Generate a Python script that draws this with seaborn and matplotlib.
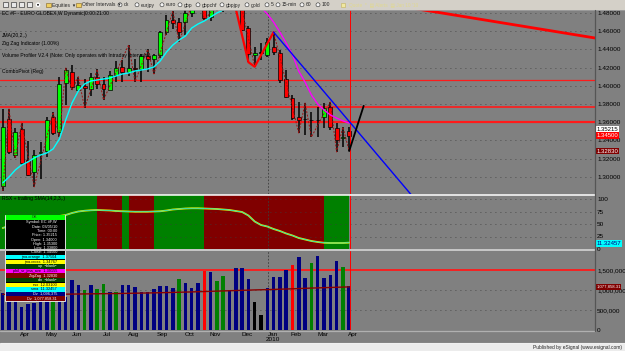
import numpy as np
import seaborn as sns
import matplotlib
matplotlib.use("Agg")
import matplotlib.pyplot as plt
from matplotlib.patches import Rectangle, Circle
from matplotlib.transforms import blended_transform_factory
from matplotlib.ticker import FuncFormatter

W, H = 625, 351
GRAY = "#808080"

# weekly EC #F (Euro FX) bars, mid Mar 2009 .. end Mar 2010
opens = [1.2900, 1.3630, 1.3240, 1.3525, 1.3185, 1.3055, 1.3262, 1.3285, 1.3655, 1.3490,
         1.4030, 1.4150, 1.3955, 1.3998, 1.3965, 1.4100, 1.4020, 1.3955, 1.4120, 1.4210,
         1.4150, 1.4200, 1.4185, 1.4325, 1.4290, 1.4339, 1.4591, 1.4723, 1.4700, 1.4700,
         1.4800, 1.4980, 1.5020, 1.4756, 1.4900, 1.4890, 1.4880, 1.4970, 1.4870, 1.4635,
         1.4340, 1.4370, 1.4340, 1.4427, 1.4360, 1.4080, 1.3866, 1.3657, 1.3630, 1.3620,
         1.3620, 1.3657, 1.3767, 1.3536, 1.3426, 1.3500]
highs = [1.3745, 1.3745, 1.3535, 1.3590, 1.3395, 1.3295, 1.3380, 1.3655, 1.3710, 1.4100,
         1.4200, 1.4230, 1.4100, 1.4080, 1.4140, 1.4180, 1.4100, 1.4160, 1.4270, 1.4280,
         1.4450, 1.4300, 1.4350, 1.4400, 1.4350, 1.4600, 1.4780, 1.4820, 1.4745, 1.4840,
         1.5050, 1.5100, 1.5060, 1.4950, 1.5050, 1.5030, 1.5140, 1.5150, 1.4900, 1.4660,
         1.4430, 1.4470, 1.4520, 1.4590, 1.4393, 1.4174, 1.3899, 1.3822, 1.3811, 1.3712,
         1.3767, 1.3811, 1.3822, 1.3591, 1.3547, 1.3547]
lows = [1.2845, 1.3250, 1.3205, 1.3130, 1.3010, 1.2890, 1.2975, 1.3220, 1.3460, 1.3435,
        1.3790, 1.3950, 1.3950, 1.3755, 1.3890, 1.3960, 1.3845, 1.3950, 1.4040, 1.4040,
        1.4110, 1.4045, 1.4045, 1.4155, 1.4130, 1.4310, 1.4560, 1.4620, 1.4480, 1.4560,
        1.4760, 1.4900, 1.4720, 1.4710, 1.4820, 1.4810, 1.4830, 1.4840, 1.4600, 1.4260,
        1.4210, 1.4285, 1.4315, 1.4340, 1.4030, 1.3866, 1.3624, 1.3481, 1.3459, 1.3437,
        1.3437, 1.3536, 1.3514, 1.3273, 1.3327, 1.3283]
closes = [1.3550, 1.3275, 1.3490, 1.3150, 1.3020, 1.3240, 1.3273, 1.3625, 1.3480, 1.4025,
          1.4170, 1.3990, 1.4010, 1.3976, 1.4100, 1.4020, 1.3960, 1.4120, 1.4200, 1.4150,
          1.4200, 1.4185, 1.4325, 1.4290, 1.4339, 1.4591, 1.4720, 1.4690, 1.4590, 1.4800,
          1.4980, 1.5020, 1.4745, 1.4900, 1.4890, 1.4880, 1.4970, 1.4870, 1.4615, 1.4350,
          1.4360, 1.4365, 1.4480, 1.4372, 1.4064, 1.3877, 1.3646, 1.3624, 1.3632, 1.3625,
          1.3625, 1.3756, 1.3547, 1.3404, 1.3437, 1.3450]
candle_cols = "grgrrgggrg" "grgrgrrggr" "grgrgggrrg" "ggrgrrgrrr" "gkgrrrrrkk" "kgrrgr"

# JMA(20) - cyan while rising, magenta after the turn
jma = [1.2932, 1.2998, 1.3075, 1.3130, 1.3163, 1.3207, 1.3240, 1.3262, 1.3306, 1.3415,
       1.3624, 1.3811, 1.3943, 1.4020, 1.4053, 1.4064, 1.4075, 1.4086, 1.4108, 1.4130,
       1.4141, 1.4163, 1.4174, 1.4185, 1.4207, 1.4273, 1.4371, 1.4448, 1.4503, 1.4547,
       1.4635, 1.4679, 1.4712, 1.4756, 1.4800, 1.4833, 1.4880, 1.4910, 1.4930, 1.4920,
       1.4890, 1.4860, 1.4790, 1.4700, 1.4590, 1.4470, 1.4340, 1.4160, 1.4040, 1.3900,
       1.3800, 1.3735, 1.3680, 1.3645, 1.3615, 1.3590]
jma_turn = 37

# zig zag pivots (bar index), alternating low / high
zz_idx = [0, 1, 2, 3, 5, 8, 9, 10, 11, 12, 13, 15, 16, 20, 21, 23, 24, 27, 28, 31, 32,
          37, 40, 43, 47, 48, 49, 52, 53, 54, 55]
zz_major_x = [36, 39, 40, 43]
zz_major_y = [1.5140, 1.4260, 1.4210, 1.4590]
proj_x = [55, 57.3]
proj_y = [1.3283, 1.3780]
blue_x = [43, 65]
blue_y = [1.4590, 1.2790]
red_x = [60, 94.5]
red_y = [1.4910, 1.4520]
pivot_levels = [1.4065, 1.3770, 1.3600]
price_ticks = [1.30, 1.32, 1.34, 1.36, 1.38, 1.40, 1.42, 1.44, 1.46, 1.48]

# RSX + trailing SMA
rsx = [42, 46, 50, 52, 50, 52, 54, 58, 62, 66,
       68, 72, 75, 76.5, 77.5, 78, 77.5, 77, 76, 75.5,
       75, 74.5, 74.5, 74.5, 75, 75.5, 77, 79, 80, 81,
       81.5, 81.5, 81, 80.5, 80, 79, 78, 76, 74, 67,
       55, 48, 45, 40, 36, 31, 27, 22, 19, 16,
       14, 12.5, 12, 12, 12, 12.7]
rsx_regime = "g" * 16 + "r" * 4 + "g" + "r" * 4 + "g" * 8 + "r" * 19 + "g" * 4

# volume
volume = [917000, 1050000, 950000, 583000, 650000, 667000, 700000, 800000, 750000, 950000,
          833000, 1250000, 1125000, 1000000, 1125000, 1025000, 1150000, 958000, 942000, 1125000,
          1125000, 1083000, 958000, 958000, 1017000, 1108000, 1108000, 1058000, 1275000, 1167000,
          1058000, 1183000, 1475000, 1442000, 1225000, 1358000, 992000, 1558000, 1558000, 1267000,
          692000, 375000, 1058000, 1317000, 1317000, 1500000, 1625000, 1833000, 1292000, 1683000,
          1858000, 1292000, 1375000, 1725000, 1583000, 1096375]
vol_cols = "bbbbbbbbgb" "bbbgbggbgb" "bbbbbbbbgb" "bbrbggbbbb" "kkbbbbrbbg" "bbbbgb"
vol_avg = [892000, 891000, 890000, 889000, 889000, 890000, 891000, 892000, 893000, 895000,
           896000, 898000, 900000, 902000, 904000, 906000, 908000, 910000, 912000, 914000,
           917000, 920000, 923000, 926000, 929000, 932000, 936000, 940000, 944000, 948000,
           952000, 957000, 962000, 967000, 972000, 977000, 982000, 987000, 992000, 997000,
           1002000, 1006000, 1010000, 1015000, 1020000, 1025000, 1030000, 1036000, 1042000, 1048000,
           1053000, 1058000, 1063000, 1068000, 1073000, 1077858]

month_labels = ["Apr", "May", "Jun", "Jul", "Aug", "Sep", "Oct", "Nov", "Dec", "Jan\n2010",
                "Feb", "Mar", "Apr"]
month_pos = [3.5, 7.7, 11.8, 16.6, 20.7, 25.4, 29.7, 33.7, 38.8, 42.9, 46.6, 50.8, 55.6]
year_break = 42.1
cursor_bar = 55.2

CANDLE = {"g": "#00FF00", "r": "#FF0000", "k": "#000000"}
VOLC = {"b": "#000080", "g": "#008000", "r": "#FF0000", "k": "#000000"}
BAND = {"g": "#008000", "r": "#800000"}
DOTS = dict(linestyle=(0, (1, 5)), color="#3c3c3c", linewidth=0.6)


def px_axes(fig, x0, y0, x1, y1):
    return fig.add_axes([x0 / W, 1 - y1 / H, (x1 - x0) / W, (y1 - y0) / H])


def base(ax, x_lim):
    ax.set_facecolor(GRAY)
    ax.set_xlim(*x_lim)
    for s in ax.spines.values():
        s.set_visible(False)
    ax.yaxis.tick_right()
    ax.tick_params(axis="y", length=0, pad=1.5, labelsize=4.6, colors="black")
    ax.tick_params(axis="x", length=0, labelbottom=False)
    ax.set_xlabel("")
    ax.set_ylabel("")
    ax.axvline(year_break, color="#3c3c3c", linestyle=(0, (2, 2)), linewidth=0.6)
    ax.axvline(cursor_bar, color="#FF0000", linewidth=0.7, zorder=6)


def value_box(ax, y, text, fc, tc, size=4.3):
    tr = blended_transform_factory(ax.transAxes, ax.transData)
    ax.text(1.002, y, text, transform=tr, fontsize=size, color=tc, va="center", ha="left",
            clip_on=False, zorder=8,
            bbox=dict(boxstyle="square,pad=0.15", facecolor=fc, edgecolor="none"))


def main():
    sns.set_style("dark")
    plt.rcParams["font.family"] = ["Liberation Sans", "DejaVu Sans"]

    fig = plt.figure(figsize=(W / 100, H / 100), dpi=100)
    fig.patch.set_facecolor(GRAY)
    idx = np.arange(len(opens))
    x_lim = (-0.43, 94.02)

    # price panel
    ax = px_axes(fig, 0, 10, 595, 194)
    base(ax, x_lim)
    ax.set_ylim(1.2811, 1.4833)
    ax.set_yticks(price_ticks)
    ax.yaxis.set_major_formatter(FuncFormatter(lambda v, p: f"{v:.5f}"))
    for t in price_ticks:
        ax.axhline(t, **DOTS)
    for lv, lw in zip(pivot_levels, [0.9, 1.2, 1.6]):
        ax.axhline(lv, color="#FF1A1A", linewidth=lw, zorder=2)

    o, h, l, c = map(np.array, (opens, highs, lows, closes))
    ax.vlines(idx, l, h, color="black", linewidth=1.1, zorder=3)
    body_lo = np.minimum(o, c)
    body_h = np.maximum(np.abs(c - o), 0.0007)
    ax.bar(idx, body_h, bottom=body_lo, width=0.62, color=[CANDLE[k] for k in candle_cols],
           edgecolor="black", linewidth=0.5, zorder=4)

    zz_y = [lows[i] if k % 2 == 0 else highs[i] for k, i in enumerate(zz_idx)]
    ax.plot(zz_idx, zz_y, color="#A01010", linewidth=0.7, linestyle=(0, (2, 1.5)), zorder=5)

    sns.lineplot(x=idx[:jma_turn + 1], y=jma[:jma_turn + 1], ax=ax, color="#00FFFF",
                 linewidth=1.0, zorder=5)
    sns.lineplot(x=idx[jma_turn:], y=jma[jma_turn:], ax=ax, color="#FF00FF",
                 linewidth=1.0, zorder=5)
    ax.plot(zz_major_x, zz_major_y, color="#FF0000", linewidth=1.6, zorder=6)
    ax.plot(blue_x, blue_y, color="#0000FF", linewidth=1.0, zorder=6)
    ax.plot(red_x, red_y, color="#FF0000", linewidth=2.0, zorder=6)
    ax.plot(proj_x, proj_y, color="#000000", linewidth=1.3, zorder=6)

    value_box(ax, 1.35215, "1.35215", "white", "black")
    value_box(ax, 1.34500, "1.34500", "#FF0000", "white")
    value_box(ax, 1.32830, "1.32830", "#800000", "white")

    # RSX panel
    ax2 = px_axes(fig, 0, 195, 595, 249)
    base(ax2, x_lim)
    ax2.set_ylim(0, 108)
    ax2.set_yticks([0, 25, 50, 75, 100])
    for i, k in enumerate(rsx_regime):
        left = x_lim[0] if i == 0 else i - 1
        ax2.axvspan(left, i, color=BAND[k], linewidth=0, zorder=1)
    for t in [25, 50, 75, 100]:
        ax2.axhline(t, **DOTS)
    sns.lineplot(x=idx, y=rsx, ax=ax2, color="#E8E800", linewidth=1.3, zorder=4)
    sns.lineplot(x=idx, y=rsx, ax=ax2, color="#00E0E0", linewidth=0.5, zorder=5)
    ax2.axvline(cursor_bar, color="#FF0000", linewidth=0.7, zorder=6)
    value_box(ax2, rsx[-1] - 1.4, "11.32457", "#00FFFF", "#000080")

    # volume panel
    ax3 = px_axes(fig, 0, 251, 595, 330)
    base(ax3, x_lim)
    ax3.set_ylim(0, 1975000)
    ax3.set_yticks([0, 500000, 1000000, 1500000])
    ax3.yaxis.set_major_formatter(FuncFormatter(lambda v, p: f"{int(v):,}"))
    for t in [500000, 1000000]:
        ax3.axhline(t, **DOTS)
    ax3.axhline(1500000, color="#FF1A1A", linewidth=1.3, zorder=2)
    ax3.bar(idx, volume, width=0.55, color=[VOLC[k] for k in vol_cols], linewidth=0, zorder=3)
    sns.lineplot(x=idx, y=vol_avg, ax=ax3, color="#8B0000", linewidth=1.0, zorder=4)
    ax3.set_xticks(month_pos)
    ax3.set_xticklabels(month_labels, linespacing=1.0)
    ax3.tick_params(axis="x", labelbottom=True, labelsize=4.6, pad=1.5, colors="black")
    value_box(ax3, vol_avg[-1], "1,077,858.31", "#800000", "white", size=3.1)

    # chrome: toolbar, separators, titles, data window, status bar
    ov = fig.add_axes([0, 0, 1, 1])
    ov.set_xlim(0, W)
    ov.set_ylim(H, 0)
    ov.axis("off")
    ov.patch.set_visible(False)
    ov.set_zorder(10)

    ov.add_patch(Rectangle((0, 0), W, 9.5, facecolor="#D4D0C8", edgecolor="none"))
    ov.plot([0, W], [9.5, 9.5], color="#A0A0A0", linewidth=0.6)
    for x0 in [3, 11, 19, 27]:
        ov.add_patch(Rectangle((x0, 2.2), 5, 5, facecolor="#E8E8E8", edgecolor="#404040",
                               linewidth=0.5))
    ov.add_patch(Circle((38, 4.8), 1.6, facecolor="black"))
    for x0, name in [(46, "Equities  \u25be"), (76, "Other Intervals  \u25be")]:
        ov.add_patch(Rectangle((x0, 2.5), 4.5, 4, facecolor="#F0D060", edgecolor="#806020",
                               linewidth=0.4))
        ov.text(x0 + 6, 5, name, fontsize=3.6, va="center", ha="left")
    for cx, name in [(120, "dx"), (137, "eurjpy"), (162, "euro"), (180, "gbp"),
                     (198, "gbpchf"), (222, "gbpjpy"), (247, "gold"), (267, "5"),
                     (278, "15-min"), (302, "60"), (318, "100")]:
        ov.add_patch(Circle((cx, 4.8), 2.0, facecolor="#F4F4F4", edgecolor="#303030",
                            linewidth=0.4))
        ov.text(cx + 4, 5, name, fontsize=3.6, va="center", ha="left")
    ov.add_patch(Rectangle((341, 2.5), 4, 4, facecolor="#F0E8A0", edgecolor="#C0B060",
                           linewidth=0.4))
    ov.text(349, 5, "Quote  *  \u25a4 Alerts  \u25a4 Jan 10 '10", fontsize=3.4, va="center",
            ha="left", color="#E0D890")

    ov.plot([0, 595], [194.5, 194.5], color="white", linewidth=1.1)
    ov.plot([0, 595], [250, 250], color="#C8C8C8", linewidth=1.4)
    ov.plot([0, 595], [330.8, 330.8], color="#B0B0B0", linewidth=0.9)
    ov.plot([594.5, 594.5], [9.5, 331], color="#555555", linewidth=0.9)
    ov.plot([0, W], [343.2, 343.2], color="#F0F0F0", linewidth=0.8)
    ov.add_patch(Rectangle((0, 343.6), W, 8, facecolor="#ECECEC", edgecolor="none"))
    ov.text(622, 347.6, "Published by eSignal (www.esignal.com)", fontsize=3.5, va="center",
            ha="right")

    for y, txt in [(13.5, "EC #F - EURO GLOBEX,W Dynamic|0:00:21:00"),
                   (35.5, "JMA(20,2,.)"),
                   (43, "Zig Zag Indicator (1.00%)"),
                   (55, "Volume Profiler V2.4 (Note: Only operates with Intraday Intervals.)"),
                   (72, "ComboPivot (Reg)"),
                   (198.5, "RSX + trailing SMA(14,2,3,.)")]:
        ov.text(2, y, txt, fontsize=3.6, va="center", ha="left", color="black")

    # data window
    ov.add_patch(Rectangle((5, 214.5), 60, 86.5, facecolor="black", edgecolor="white",
                           linewidth=0.6))
    ov.add_patch(Rectangle((5.5, 215), 59, 4.6, facecolor="#00FF00", edgecolor="none"))
    ov.text(35, 217.4, "OK", fontsize=2.8, ha="center", va="center")
    info = ["Symbol: EC #F,W", "Date: 03/05/10", "Time: 00:00", "Price: 1.35215",
            "Open: 1.34000", "High: 1.35300", "Low: 1.33800", "Close: 1.34500"]
    for k, txt in enumerate(info):
        ov.text(57, 222.3 + k * 4.3, txt, fontsize=2.8, ha="right", va="center", color="white")
    rows = [("#00FFFF", "jma.orange  1.37504", "black"),
            ("#FFFF00", "jma.cross  1.34767", "black"),
            ("#004000", "up  \u2022blank\u2022", "white"),
            ("#FF00FF", "phil_sr_jma_ave  1.39155", "black"),
            ("#800000", "ZigZag  1.32830", "white"),
            ("#004000", "dn  \u2022blank\u2022", "white"),
            ("#FFFF00", "rsx  12.03100", "black"),
            ("#00FFFF", "sma  11.32457", "black"),
            ("#000080", "Dv  1,096,375", "white"),
            ("#800000", "Dv  1,077,858.31", "white")]
    for k, (fc, txt, tc) in enumerate(rows):
        y0 = 255.0 + k * 4.6
        ov.add_patch(Rectangle((5.5, y0), 59, 4.4, facecolor=fc, edgecolor="none"))
        ov.text(57, y0 + 2.2, txt, fontsize=2.8, ha="right", va="center", color=tc)

    fig.savefig("out.png", dpi=100, facecolor=fig.get_facecolor())


if __name__ == "__main__":
    main()
